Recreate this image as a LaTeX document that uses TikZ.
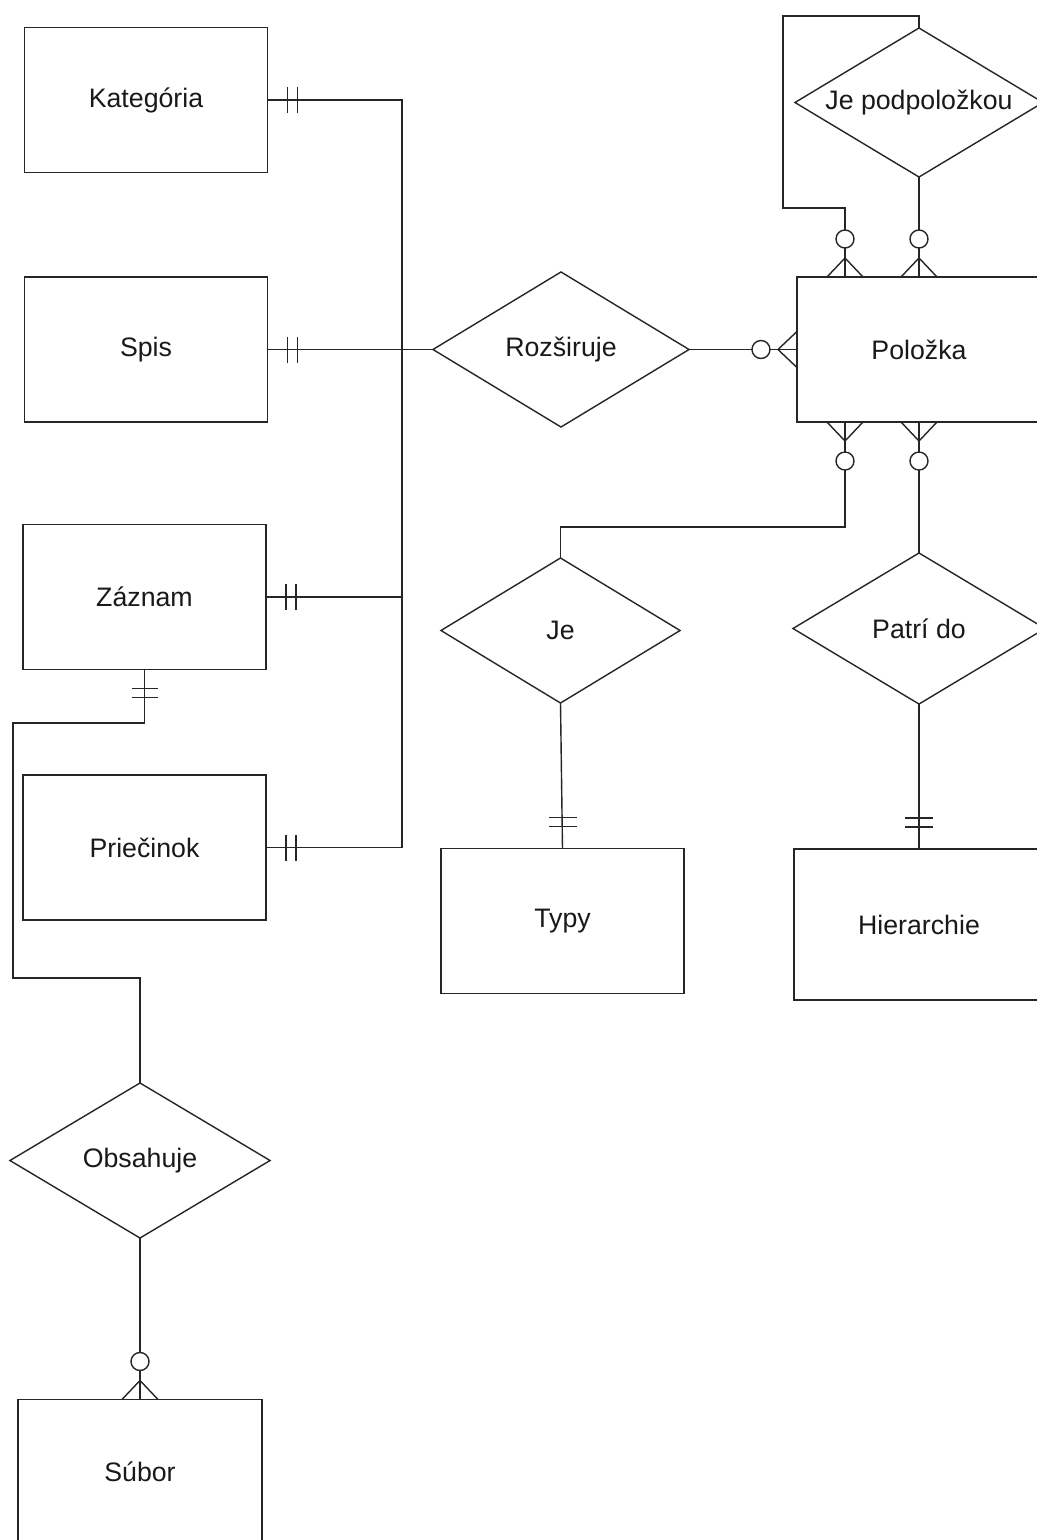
\documentclass[tikz,border=0pt]{standalone}
\usepackage{fontspec}
\setmainfont{Liberation Sans}
\usetikzlibrary{shapes.geometric,calc}

\tikzset{
  link/.style={draw=black!85, line width=1pt},
  entity/.style={link, rectangle, minimum width=6.075cm, minimum height=3.625cm,
    inner sep=0pt, outer sep=0pt, text=black!90, font=\fontsize{19}{22}\selectfont},
  relation/.style={link, diamond, aspect=1.65, inner sep=0pt, outer sep=0pt,
    text=black!90, font=\fontsize{19}{22}\selectfont},
  ring/.style={link, fill=white}
}

\begin{document}
\begin{tikzpicture}[x=0.025cm,y=-0.025cm]
	\useasboundingbox (0,0) rectangle (1037,1540);
	\fill[white] (0,0) rectangle (1037,1540);
	\clip (0,0) rectangle (1037,1540);

	% entities
	\node[entity] (kat) at (146,100) {Kategória};
	\node[entity] (spis) at (146,349.5) {Spis};
	\node[entity] (zaz) at (144.5,597) {Záznam};
	\node[entity] (prie) at (144.5,847.5) {Priečinok};
	\node[entity, minimum width=6.1cm] (sub) at (140,1472) {Súbor};
	\node[entity, minimum width=6.1cm] (pol) at (919,349.5) {Položka};
	\node[entity] (typ) at (562.5,921) {Typy};
	\node[entity, minimum width=6.25cm, minimum height=3.775cm] (hier) at (919,924.5) {Hierarchie};

	% relations
	\node[relation, minimum width=6.2cm, minimum height=3.725cm] (jp) at (919,102.5) {Je podpoložkou};
	\node[relation, minimum width=6.4cm, minimum height=3.875cm] (roz) at (561,349.5) {Rozširuje};
	\node[relation, minimum width=5.975cm, minimum height=3.625cm] (je) at (560.5,630.5) {Je};
	\node[relation, minimum width=6.3cm, minimum height=3.775cm] (pat) at (919,628.5) {Patrí do};
	\node[relation, minimum width=6.5cm, minimum height=3.875cm] (obs) at (140,1160.5) {Obsahuje};

	\coordinate (bus) at (402,349.5);
	\coordinate (loopA) at (783,16);
	\coordinate (loopB) at (845,208);
	\coordinate (poltop) at ($(pol.north)+(-74,0)$);
	\coordinate (polbot) at ($(pol.south)+(-74,0)$);
	\coordinate (zbendA) at (13,723);
	\coordinate (zbendB) at (13,978);

	% connectors
	\draw[link] (kat.east) -| (bus);
	\draw[link] (zaz.east) -| (bus);
	\draw[link] (prie.east) -| (bus);
	\draw[link] (spis.east) -- (roz.west);
	\draw[link] (roz.east) -- (pol.west);
	\draw[link] (jp.south) -- (pol.north);
	\draw[link] (jp.north) |- (loopA) |- (loopB) -- (poltop);
	\draw[link] (polbot) -- ++(0,105) -| (je.north);
	\draw[link] (pol.south) -- (pat.north);
	\draw[link] (je.south) -- (typ.north);
	\draw[link] (pat.south) -- (hier.north);
	\draw[link] (zaz.south) |- (zbendA) -- (zbendB) -| (obs.north);
	\draw[link] (obs.south) -- (sub.north);

	% exactly one
	\foreach \n in {kat,spis,zaz,prie}
		\draw[link] (\n.east) ++(20,-13) -- ++(0,26) ++(10,0) -- ++(0,-26);
	\foreach \n in {typ,hier}
		\draw[link] (\n.north) ++(-14,-22) -- ++(28,0) ++(0,-9) -- ++(-28,0);
	\draw[link] (zaz.south) ++(-13,19) -- ++(26,0) ++(0,9) -- ++(-26,0);

	% zero or many
	\foreach \p in {poltop,pol.north,sub.north} {
		\draw[link] (\p) ++(-18,0) -- ++(18,-19) -- ++(18,19);
		\draw[ring] (\p) ++(0,-38) circle[radius=0.225cm];
	}
	\foreach \p in {polbot,pol.south} {
		\draw[link] (\p) ++(-18,0) -- ++(18,19) -- ++(18,-19);
		\draw[ring] (\p) ++(0,39) circle[radius=0.225cm];
	}
	\draw[link] (pol.west) ++(0,-18) -- ++(-19,18) -- ++(19,18);
	\draw[ring] (pol.west) ++(-36,0) circle[radius=0.225cm];
\end{tikzpicture}
\end{document}
